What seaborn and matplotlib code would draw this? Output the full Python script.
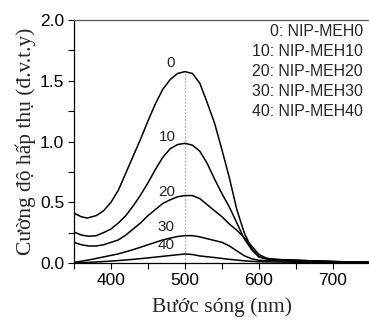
import matplotlib
matplotlib.use("Agg")
import matplotlib.pyplot as plt
import seaborn as sns
import pandas as pd
import numpy as np
from matplotlib.ticker import MultipleLocator

# ---- data ----
wl_0 = [350, 360, 368, 380, 390, 400, 410, 420, 430, 440, 450, 460, 470, 480, 490, 500,
        510, 520, 530, 540, 550, 560, 570, 580, 590, 600, 610, 620, 640, 660, 680, 700, 720, 750]
abs_0 = [0.41, 0.38, 0.37, 0.39, 0.43, 0.50, 0.60, 0.74, 0.88, 1.02, 1.17, 1.31, 1.43, 1.51, 1.56, 1.575,
         1.56, 1.48, 1.32, 1.15, 0.93, 0.70, 0.44, 0.25, 0.12, 0.05, 0.035, 0.03, 0.024, 0.02, 0.016, 0.012, 0.009, 0.005]

wl_10 = [350, 360, 370, 380, 390, 400, 410, 420, 430, 440, 450, 460, 470, 480, 490, 500,
         510, 520, 530, 540, 550, 560, 570, 580, 590, 600, 610, 620, 640, 660, 700, 750]
abs_10 = [0.255, 0.23, 0.22, 0.225, 0.25, 0.28, 0.33, 0.39, 0.47, 0.56, 0.66, 0.77, 0.87, 0.94, 0.975, 0.985,
          0.97, 0.92, 0.82, 0.69, 0.57, 0.46, 0.33, 0.20, 0.11, 0.05, 0.035, 0.03, 0.024, 0.02, 0.012, 0.005]

wl_20 = [350, 360, 370, 380, 390, 400, 410, 420, 430, 440, 450, 460, 470, 480, 490, 500,
         510, 520, 530, 540, 550, 560, 570, 580, 590, 600, 610, 620, 640, 660, 700, 750]
abs_20 = [0.17, 0.15, 0.14, 0.14, 0.15, 0.17, 0.19, 0.23, 0.28, 0.33, 0.39, 0.44, 0.49, 0.52, 0.545, 0.555,
          0.555, 0.53, 0.48, 0.43, 0.38, 0.32, 0.27, 0.21, 0.14, 0.07, 0.04, 0.03, 0.024, 0.02, 0.012, 0.005]

wl_30 = [350, 370, 390, 410, 430, 440, 450, 460, 470, 480, 490, 500, 510, 520, 530, 540,
         550, 560, 570, 580, 590, 600, 620, 660, 700, 750]
abs_30 = [0.005, 0.025, 0.05, 0.075, 0.11, 0.13, 0.15, 0.17, 0.19, 0.205, 0.218, 0.225, 0.225, 0.215, 0.20, 0.185,
          0.17, 0.14, 0.10, 0.06, 0.035, 0.022, 0.018, 0.014, 0.01, 0.005]

wl_40 = [350, 370, 390, 410, 430, 450, 470, 490, 500, 510, 520, 540, 560, 570, 580, 600, 650, 700, 750]
abs_40 = [0.0, 0.005, 0.012, 0.02, 0.03, 0.042, 0.055, 0.068, 0.074, 0.07, 0.058, 0.045, 0.03, 0.024, 0.018, 0.01, 0.006, 0.004, 0.002]

series_keys = ["0", "10", "20", "30", "40"]
series_names = ["NIP-MEH0", "NIP-MEH10", "NIP-MEH20", "NIP-MEH30", "NIP-MEH40"]
label_x = [480, 476, 476, 474, 474]
label_y = [1.65, 1.04, 0.585, 0.30, 0.15]

x_ticks = [400, 500, 600, 700]
y_ticks = [0.0, 0.5, 1.0, 1.5, 2.0]

wls = [wl_0, wl_10, wl_20, wl_30, wl_40]
vals = [abs_0, abs_10, abs_20, abs_30, abs_40]
df = pd.concat([pd.DataFrame({"wl": w, "A": v, "s": k}) for w, v, k in zip(wls, vals, series_keys)],
               ignore_index=True)

sns.set_style("ticks")
plt.rcParams["font.family"] = ["Liberation Sans", "DejaVu Sans"]

fig = plt.figure(figsize=(3.69, 3.21), dpi=100)
ax = fig.add_axes([74 / 369, 58 / 321, 296 / 369, 243 / 321])

sns.lineplot(data=df, x="wl", y="A", units="s", estimator=None, color="black",
             linewidth=1.1, ax=ax, sort=False)

# dotted guide at peak of first series
i_pk = int(np.argmax(abs_0))
ax.plot([wl_0[i_pk], wl_0[i_pk]], [0, abs_0[i_pk]], color="#b8b8b8", lw=1.0,
        linestyle=(0, (1.5, 1.0)), zorder=1)

ax.set_xlim(350, 750)
ax.set_ylim(0, 2.0)
ax.set_xticks(x_ticks)
ax.set_yticks(y_ticks)
ax.set_xticklabels([str(t) for t in x_ticks])
ax.set_yticklabels([f"{t:.1f}" for t in y_ticks])
ax.xaxis.set_minor_locator(MultipleLocator(50))
ax.yaxis.set_minor_locator(MultipleLocator(0.25))
ax.tick_params(which="both", direction="out", length=4, width=0.8, colors="black",
               labelsize=12.5)
ax.tick_params(which="major", pad=3)
for sp in ["left", "bottom", "top"]:
    ax.spines[sp].set_visible(True)
    ax.spines[sp].set_linewidth(0.9)
    ax.spines[sp].set_color("black")
ax.spines["top"].set_color("#555555")
ax.spines["right"].set_visible(False)

ax.set_xlabel("Bước sóng (nm)", family=["Liberation Serif", "DejaVu Serif"], fontsize=15.5, labelpad=7)
ax.set_ylabel("Cường độ hấp thụ (đ.v.t.y)", family=["Liberation Serif", "DejaVu Serif"], fontsize=15.5,
              labelpad=3)

for k, lx, ly in zip(series_keys, label_x, label_y):
    ax.text(lx, ly, k, ha="center", va="center", fontsize=11)

for i, (k, n) in enumerate(zip(series_keys, series_names)):
    ax.text(0.976, (263 - 32 - i * 19.8) / 243, f"{k}: {n}", transform=ax.transAxes,
            ha="right", va="center", fontsize=11.4)

fig.savefig("out.png", dpi=100)
